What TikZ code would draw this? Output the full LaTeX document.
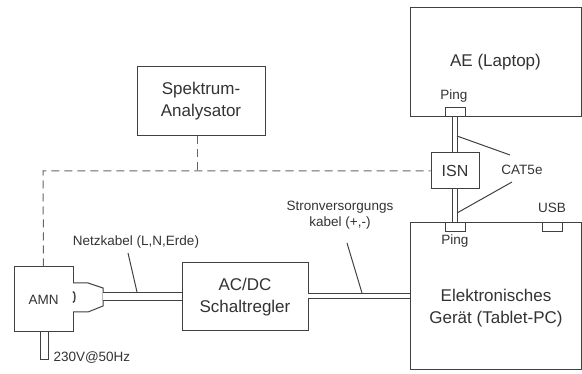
\documentclass[tikz,border=0pt]{standalone}
\usepackage{fontspec}
\setmainfont{Liberation Sans}
\begin{document}
\begin{tikzpicture}[x=1pt,y=-1pt,
  line width=1pt,
  every node/.style={text=black!80},
  box/.style={draw=black!75, line width=1pt, fill=white, inner sep=0pt,
    font=\fontsize{17}{22}\selectfont, align=center},
  port/.style={draw=black!75, line width=1pt, fill=white, inner sep=0pt,
    minimum width=20pt, minimum height=9pt},
  small/.style={font=\fontsize{13.5}{16}\selectfont, inner sep=0pt, align=center},
  big/.style={font=\fontsize{17}{22}\selectfont, inner sep=0pt, align=center},
  wire/.style={draw=black!75, line width=1pt},
  cable/.style={draw=black!75, line width=1pt, double=white},
  probe/.style={draw=black!60, line width=1pt, dash pattern=on 8pt off 5pt},
]
\useasboundingbox (0,0) rectangle (582,374);

% boxes
\node[box, minimum width=171pt, minimum height=109pt] (ae) at (495.5,62.5) {AE (Laptop)};
\node[box, minimum width=171pt, minimum height=147pt] (dev) at (495.5,296.5) {};
\node[big] at (496,308) {Elektronisches\\Gerät (Tablet-PC)};
\node[box, minimum width=128pt, minimum height=69pt] (sa) at (201,101.5) {Spektrum-\\Analysator};
\node[box, minimum width=126pt, minimum height=68pt] (psu) at (245,297) {AC/DC\\Schaltregler};
\node[box, minimum width=59pt, minimum height=65pt, font=\fontsize{13.5}{16}\selectfont] (amn) at (43.5,299.5) {AMN};
\node[box, minimum width=48pt, minimum height=36pt, font=\fontsize{16}{20}\selectfont] (isn) at (455,171) {ISN};

% ports
\node[port] (p1) at (455,112.5) {};
\node[port] (p2) at (455,227.5) {};
\node[port] (usb) at (552.5,227.5) {};
\node[small] at (454,96) {Ping};
\node[small] at (455,241) {Ping};
\node[small] at (552,208) {USB};

% network cables
\draw[cable, double distance=4pt] (p1.south) -- (isn.north);
\draw[cable, double distance=4pt] (isn.south) -- (p2.north);

% mains plug on the AMN
\draw[wire, fill=white] (73,283) -- (88,283) -- (103,288) -- (103,306) -- (88,312) -- (73,312);
\draw[wire, line width=1.4pt] (73,291.5) arc[start angle=90, end angle=-90, x radius=2pt, y radius=5.5pt];
\coordinate (plug) at (103,296.5);
\draw[cable, double distance=7pt] (plug) -- (psu.west |- plug);

% supply plug below the AMN
\draw[wire] (40,332) -- (40,360) -- (48,360) -- (48,332);
\node[small, anchor=west] at (53,358) {230V@50Hz};

% DC supply cable
\coordinate (dc) at (308,296);
\draw[cable, double distance=4.5pt] (dc) -- (dev.west |- dc);

% measurement connections
\coordinate (sa0) at (197,136);
\coordinate (t1) at (197,171);
\coordinate (t0) at (43,171);
\draw[probe] (sa0) -- (t1);
\draw[probe] (amn.north) -- (t0) -- (isn.west);

% labels with leaders
\node[small] (nk) at (136,242) {Netzkabel (L,N,Erde)};
\coordinate (nk0) at (128,253);
\coordinate (nk1) at (137,292);
\draw[wire] (nk0) -- (nk1);

\node[small] (sv) at (340,215) {Stronversorgungs\\kabel (+,-)};
\coordinate (sv0) at (347,243);
\coordinate (sv1) at (362,293);
\draw[wire] (sv0) -- (sv1);

\node[small] (cat) at (522,170) {CAT5e};
\coordinate (c0) at (510,155);
\coordinate (c1) at (457,136);
\coordinate (c2) at (512,182);
\coordinate (c3) at (457,213);
\draw[wire] (c0) -- (c1);
\draw[wire] (c2) -- (c3);
\end{tikzpicture}
\end{document}
